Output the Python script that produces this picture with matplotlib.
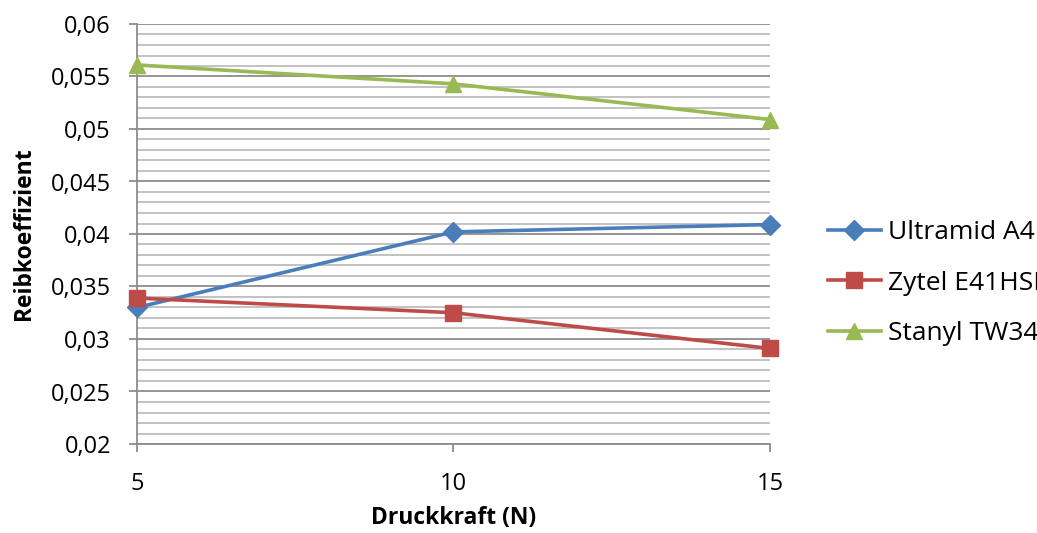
import matplotlib
matplotlib.use("Agg")
import matplotlib.pyplot as plt
from matplotlib.ticker import MultipleLocator, FuncFormatter

x = [5, 10, 15]
ultramid = [0.0330, 0.0402, 0.0409]
zytel = [0.0339, 0.0325, 0.0291]
stanyl = [0.0561, 0.0543, 0.0509]
names = ["Ultramid A4H", "Zytel E41HSB", "Stanyl TW341"]

plt.rcParams['font.family'] = ['Open Sans', 'DejaVu Sans']

fig = plt.figure(figsize=(10.37, 5.33), dpi=100)
L, R, T, B = 137, 770, 24, 444
ax = fig.add_axes([L/1037, 1-B/533, (R-L)/1037, (B-T)/533])

c_blue = '#4A7EBB'
c_red = '#BE4B48'
c_green = '#98B954'
ax.plot(x, ultramid, color=c_blue, lw=2.6, marker='D', ms=10, label=names[0], clip_on=False, zorder=3)
ax.plot(x, zytel, color=c_red, lw=2.6, marker='s', ms=11, label=names[1], clip_on=False, zorder=3)
ax.plot(x, stanyl, color=c_green, lw=2.6, marker='^', ms=12, label=names[2], clip_on=False, zorder=3)

ax.set_xlim(5, 15)
ax.set_ylim(0.02, 0.06)
ax.set_xticks(x)
ax.yaxis.set_major_locator(MultipleLocator(0.005))
ax.yaxis.set_minor_locator(MultipleLocator(0.001))
ax.yaxis.set_major_formatter(FuncFormatter(lambda v, p: f"{v:.3f}".rstrip('0').replace('.', ',')))
ax.grid(True, which='major', axis='y', color='#8c8c8c', lw=1.3)
ax.grid(True, which='minor', axis='y', color='#bdbdbd', lw=1.3)
ax.set_axisbelow(True)
for s in ['top', 'right']:
    ax.spines[s].set_visible(False)
for s in ['left', 'bottom']:
    ax.spines[s].set_color('#8c8c8c')
    ax.spines[s].set_linewidth(1.3)
ax.tick_params(axis='both', which='major', length=5.8, color='#8c8c8c', width=1.3, labelsize=17)
ax.tick_params(axis='y', which='major', pad=13)
ax.tick_params(axis='x', which='major', pad=14)
ax.tick_params(axis='y', which='minor', length=0)

ax.set_xlabel('Druckkraft (N)', fontsize=16.5, fontweight='bold', va='center')
ax.xaxis.set_label_coords(0.5, (B-518)/(B-T))
ax.set_ylabel('Reibkoeffizient', fontsize=16.5, fontweight='bold', va='center')
ax.yaxis.set_label_coords((24-L)/(R-L), 0.5)

leg = fig.legend(loc='center left', bbox_to_anchor=(828/1037, 1-283/533), frameon=False,
                 fontsize=19, handlelength=2.0, handletextpad=0.28, labelspacing=0.97,
                 borderpad=0, borderaxespad=0)

fig.savefig('out.png', dpi=100)
